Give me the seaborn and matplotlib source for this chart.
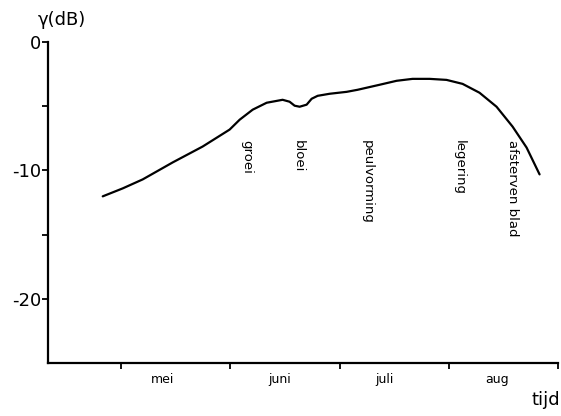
import matplotlib
matplotlib.use("Agg")
import matplotlib.pyplot as plt
import seaborn as sns
import pandas as pd

# time axis in months (5 = 1 May, 9 = 1 Sept), backscatter in dB
month_pos = [4.831, 5.014, 5.197, 5.471, 5.746, 5.993, 6.085, 6.204, 6.332,
             6.478, 6.542, 6.588, 6.634, 6.698, 6.744, 6.799, 6.909, 7.065,
             7.165, 7.366, 7.522, 7.668, 7.824, 7.979, 8.126, 8.281, 8.437,
             8.584, 8.712, 8.831]
gamma_db = [-12.02, -11.40, -10.70, -9.38, -8.14, -6.82, -6.05, -5.27, -4.73,
            -4.50, -4.65, -4.96, -5.04, -4.88, -4.42, -4.19, -4.03, -3.88,
            -3.72, -3.33, -3.02, -2.87, -2.87, -2.95, -3.26, -3.95, -5.04,
            -6.59, -8.22, -10.31]

month_bounds = [5, 6, 7, 8, 9]
month_names = ["mei", "juni", "juli", "aug"]
month_label_pos = [5.38, 6.45, 7.41, 8.44]

stages = ["groei", "bloei", "peulvorming", "legering", "afsterven blad"]
stage_pos = [6.15, 6.62, 7.25, 8.10, 8.58]

sns.set_style("ticks")
plt.rcParams["font.family"] = ["DejaVu Sans"]
plt.rcParams["text.color"] = "black"
plt.rcParams["xtick.color"] = "black"
plt.rcParams["ytick.color"] = "black"
plt.rcParams["axes.edgecolor"] = "black"

fig = plt.figure(figsize=(5.61, 4.16), dpi=100)
ax = fig.add_axes([0.0856, 0.1274, 0.9091, 0.7716])

df = pd.DataFrame({"tijd": month_pos, "gamma": gamma_db})
sns.lineplot(data=df, x="tijd", y="gamma", ax=ax, color="black",
             linewidth=1.6, solid_joinstyle="round", solid_capstyle="round")

ax.set_xlim(4.33, 9.0)
ax.set_ylim(-25, 0)

# y axis: labelled ticks every 10 dB, unlabelled ticks in between
ax.set_yticks([0, -10, -20])
ax.set_yticklabels(["0", "-10", "-20"], fontsize=13)
ax.set_yticks([-5, -15], minor=True)
ax.tick_params(axis="y", which="both", direction="out", length=4, width=1.3, pad=1)

# x axis: ticks at month boundaries, month names in between
ax.set_xticks(month_bounds)
ax.set_xticklabels([""] * len(month_bounds))
ax.set_xticks(month_label_pos, minor=True)
ax.set_xticklabels(month_names, minor=True, fontsize=9)
ax.tick_params(axis="x", which="major", direction="out", length=4, width=1.3)
ax.tick_params(axis="x", which="minor", length=0, pad=7)

for side in ["top", "right"]:
    ax.spines[side].set_visible(False)
for side in ["left", "bottom"]:
    ax.spines[side].set_linewidth(1.6)

ax.set_xlabel("")
ax.set_ylabel("")

# growth stages written vertically beneath the curve
for name, xp in zip(stages, stage_pos):
    ax.text(xp, -7.6, name, rotation=-90, ha="center", va="top", fontsize=9.5)

fig.text(62 / 561, 1 - 20 / 416, "γ(dB)", ha="center", va="center", fontsize=13)
fig.text(560 / 561, 1 - 400 / 416, "tijd", ha="right", va="center", fontsize=13)

fig.savefig("out.png", dpi=100)
